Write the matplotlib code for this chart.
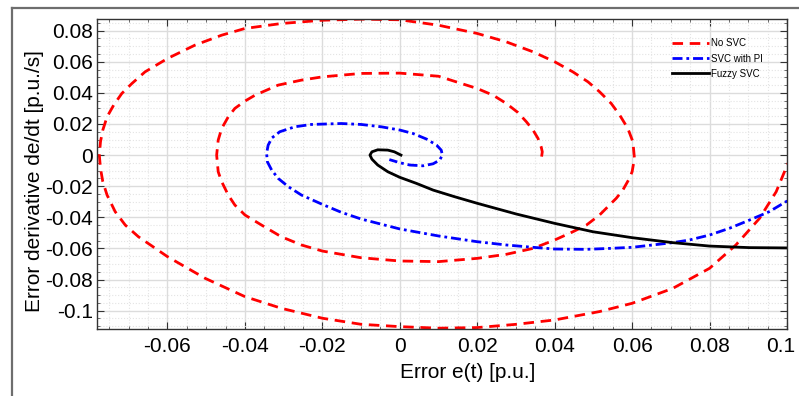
import matplotlib
matplotlib.use("Agg")
import matplotlib.pyplot as plt
from matplotlib.ticker import MultipleLocator, FuncFormatter
from matplotlib.lines import Line2D
from matplotlib.transforms import ScaledTranslation

plt.rcParams['font.family'] = ['Liberation Sans', 'DejaVu Sans']

# phase-plane trajectories: error e and its derivative de/dt
no_svc_e = [0.1012, 0.0997, 0.0972, 0.0929, 0.0868, 0.08, 0.0705, 0.06, 0.0516, 0.04, 0.0301,
            0.02, 0.01, 0.0, -0.01, -0.02, -0.0306, -0.04, -0.0503, -0.06, -0.0675, -0.0709,
            -0.0735, -0.0756, -0.0767, -0.0773, -0.0776, -0.0773, -0.0767, -0.0756, -0.0739,
            -0.0718, -0.0692, -0.0658, -0.06, -0.0529, -0.046, -0.04, -0.0306, -0.02, -0.01, 0.0,
            0.01, 0.02, 0.0275, 0.0344, 0.04, 0.0447, 0.0486, 0.0516, 0.0546, 0.0568, 0.0589,
            0.0602, 0.0606, 0.06, 0.0593, 0.0576, 0.0559, 0.0516, 0.0482, 0.0447, 0.04, 0.0344,
            0.0275, 0.02, 0.01, 0.0, -0.01, -0.02, -0.0254, -0.0306, -0.0357, -0.04, -0.0426,
            -0.0443, -0.046, -0.0469, -0.0473, -0.0469, -0.046, -0.0443, -0.0426, -0.04, -0.0374,
            -0.0314, -0.0254, -0.02, -0.01, 0.0, 0.01, 0.02, 0.0241, 0.0275, 0.0305, 0.0327,
            0.0344, 0.0357, 0.0365, 0.0368, 0.0365]
no_svc_de = [0.0, -0.0086, -0.0236, -0.0407, -0.0578, -0.0728, -0.0857, -0.0953, -0.1006,
             -0.106, -0.1088, -0.1109, -0.1113, -0.1103, -0.1088, -0.1049, -0.0985, -0.091,
             -0.0792, -0.0653, -0.0525, -0.045, -0.0364, -0.0257, -0.0171, -0.0086, 0.0, 0.0086,
             0.0161, 0.0246, 0.0321, 0.0396, 0.046, 0.0535, 0.0621, 0.0707, 0.0771, 0.0814,
             0.0846, 0.0867, 0.0874, 0.087, 0.0835, 0.0782, 0.0728, 0.0664, 0.06, 0.0535, 0.0471,
             0.0407, 0.0332, 0.0257, 0.0171, 0.0086, -0.0021, -0.0107, -0.015, -0.0225, -0.0278,
             -0.0385, -0.045, -0.0493, -0.0546, -0.06, -0.0638, -0.0664, -0.0685, -0.0681,
             -0.066, -0.0617, -0.0578, -0.0525, -0.045, -0.0385, -0.0321, -0.0257, -0.0171,
             -0.0107, 0.0, 0.0096, 0.0171, 0.0246, 0.03, 0.0347, 0.0385, 0.045, 0.0482, 0.0503,
             0.0525, 0.0527, 0.0507, 0.0428, 0.0385, 0.0332, 0.0274, 0.0214, 0.0161, 0.0107,
             0.0054, 0.0021, -0.0032]

pi_e = [0.104, 0.0997, 0.0954, 0.0903, 0.0851, 0.08, 0.0748, 0.0705, 0.0653, 0.06, 0.0542,
        0.0482, 0.04, 0.0344, 0.0275, 0.02, 0.01, 0.0, -0.01, -0.0151, -0.02, -0.0254, -0.0288,
        -0.0314, -0.0331, -0.0342, -0.0344, -0.034, -0.033, -0.031, -0.0271, -0.0228, -0.0151,
        -0.01, -0.0048, 0.0, 0.0034, 0.0069, 0.0095, 0.0107, 0.011, 0.0103, 0.0086, 0.006,
        0.0026, 0.0, -0.0027]
pi_de = [-0.025, -0.03, -0.0364, -0.0418, -0.0471, -0.0514, -0.0546, -0.0563, -0.0578, -0.0593,
         -0.06, -0.0606, -0.0604, -0.0593, -0.0578, -0.0557, -0.052, -0.0475, -0.0411, -0.0368,
         -0.0317, -0.0257, -0.0203, -0.015, -0.0096, -0.0043, 0.0011, 0.0064, 0.0111, 0.015,
         0.0182, 0.0197, 0.0203, 0.0197, 0.0182, 0.0161, 0.0139, 0.0103, 0.0064, 0.0032, 0.0,
         -0.0032, -0.0056, -0.0069, -0.0064, -0.0049, -0.0029]

fuzzy_e = [0.1, 0.0903, 0.08, 0.0705, 0.06, 0.0499, 0.04, 0.0301, 0.02, 0.0142, 0.0086, 0.0043,
           0.0, -0.0031, -0.0057, -0.0072, -0.0077, -0.0072, -0.0057, -0.0031, -0.0014, 0.0003]
fuzzy_de = [-0.0597, -0.0595, -0.0585, -0.0563, -0.0531, -0.0493, -0.0439, -0.0379, -0.031,
            -0.0268, -0.0225, -0.0182, -0.0143, -0.0107, -0.0064, -0.0026, 0.0, 0.0021, 0.0034,
            0.0032, 0.0021, 0.0]

labels = ['No SVC', 'SVC with PI', 'Fuzzy SVC']

fig = plt.figure(figsize=(7.99, 3.96), dpi=100)
ax = fig.add_axes([97/799, 1 - 328.5/396, (787 - 97)/799, (328.5 - 19)/396])

ax.plot(no_svc_e, no_svc_de, color='#ff0000', lw=2.0, dashes=(3.8, 2.4), label=labels[0])
ax.plot(pi_e, pi_de, color='#0000ff', lw=2.0, dashes=(3.6, 1.4, 1.0, 1.4), label=labels[1])
ax.plot(fuzzy_e, fuzzy_de, color='black', lw=2.0, label=labels[2])

ax.set_xlim(-0.0782, 0.1)
ax.set_ylim(-0.1115, 0.0875)
ax.xaxis.set_major_locator(MultipleLocator(0.02))
ax.yaxis.set_major_locator(MultipleLocator(0.02))
ax.xaxis.set_minor_locator(MultipleLocator(0.005))
ax.yaxis.set_minor_locator(MultipleLocator(0.005))

fmt = FuncFormatter(lambda v, p: ('%g' % round(v, 4)) if abs(v) > 1e-9 else '0')
ax.xaxis.set_major_formatter(fmt)
ax.yaxis.set_major_formatter(fmt)

ax.grid(which='major', color='#dcdcdc', lw=1.0, ls='-')
ax.grid(which='minor', color='#e4e4e4', lw=0.8, ls=':')
ax.set_axisbelow(True)

ax.tick_params(which='both', direction='in', top=True, right=True, colors='#333333',
               labelcolor='black', labelsize=15)
ax.tick_params(which='major', length=5, width=0.8)
ax.tick_params(which='minor', length=2, width=0.5)
ax.tick_params(axis='x', pad=6)
ax.tick_params(axis='y', pad=3)
for s in ax.spines.values():
    s.set_color('#333333')
    s.set_linewidth(1.0)

# the last x label sits a bit inside the figure edge, as in the original
fig.canvas.draw()
for t in ax.xaxis.get_major_ticks():
    if abs(t.get_loc() - 0.1) < 1e-9:
        t.label1.set_transform(t.label1.get_transform() + ScaledTranslation(-0.06, 0, fig.dpi_scale_trans))

ax.set_xlabel('Error e(t) [p.u.]', fontsize=15, va='center')
ax.set_ylabel('Error derivative de/dt [p.u./s]', fontsize=15, va='center')
ax.xaxis.set_label_coords((468 - 97)/690, (328.5 - 373)/309.5)
ax.yaxis.set_label_coords((35 - 97)/690, (328.5 - 181.5)/309.5)

leg = ax.legend(loc='upper left', bbox_to_anchor=(665/799, 1 - 31.5/396), bbox_transform=fig.transFigure,
                frameon=False, fontsize=7, handlelength=3.8, handletextpad=0.25,
                labelspacing=0.54, borderpad=0.2)

# outer frame of the original screenshot
fy = 1 - 8/396
fx = 12/799
fig.add_artist(Line2D([fx, fx], [fy, -0.01], transform=fig.transFigure, color='#6e6e6e', lw=1.6))
fig.add_artist(Line2D([fx, 1.01], [fy, fy], transform=fig.transFigure, color='#6e6e6e', lw=1.6))

fig.savefig('out.png', dpi=100)
